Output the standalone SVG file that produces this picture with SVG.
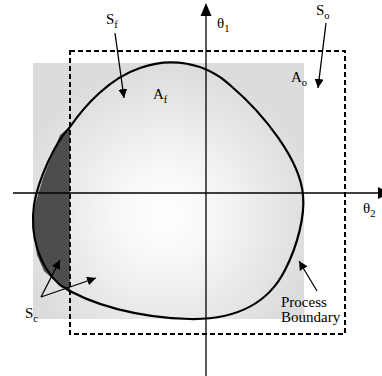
<svg xmlns="http://www.w3.org/2000/svg" width="382" height="376" viewBox="0 0 382 376">
<style>
.t{font-family:"Liberation Serif","Times New Roman",serif;font-size:15px;fill:#000}
.s{font-family:"Liberation Serif","Times New Roman",serif;font-size:10.5px;fill:#000}
.ln{stroke:#000;stroke-width:1.3;fill:none}
.bd{stroke:#000;stroke-width:2.2;fill:none;stroke-linejoin:round}
.dash{stroke:#000;stroke-width:2;fill:none;stroke-dasharray:5 3}
</style>
<defs>
<radialGradient id="g" gradientUnits="userSpaceOnUse" cx="165" cy="215" r="150">
<stop offset="0" stop-color="#ffffff"/>
<stop offset="0.3" stop-color="#f8f8f8"/>
<stop offset="1" stop-color="#dcdcdc"/>
</radialGradient>
<marker id="ah2" viewBox="0 0 10 10" refX="10" refY="5" markerWidth="9" markerHeight="9" markerUnits="userSpaceOnUse" orient="auto">
<path d="M0,0 L10,5 L0,10 Z" fill="#000"/>
</marker>
</defs>
<g id="background">
<rect x="33" y="63" width="271" height="256" fill="url(#g)"/>
</g>
<g id="region-Sc">
<polygon points="70,127 60,135 43,178 35,205 33,228 37,255 44,271 57,283 70,293" fill="#4d4d4d"/>
</g>
<g id="process-boundary">
<path class="bd" d="M70,127 C55,142 38,180 34,205 C30,235 38,265 60,285 C90,305 140,318 190,319 C240,320 270,300 285,270 C298,245 305,215 303,195 C300,160 265,115 230,85 C205,62 170,57 140,68 C110,78 85,105 70,127 Z"/>
</g>
<g id="operating-region">
<rect class="dash" x="70" y="51" width="275" height="283"/>
</g>
<g id="axes">
<line class="ln" x1="206" y1="14" x2="206" y2="376"/>
<polygon points="206,3 200.5,16 211.5,16" fill="#000"/>
<line class="ln" x1="13" y1="193" x2="379" y2="193"/>
<polygon points="390,193 378,187 378,199" fill="#000"/>
</g>
<g id="connectors">
<line class="ln" x1="115" y1="33" x2="124" y2="98" marker-end="url(#ah2)"/>
<line class="ln" x1="326" y1="23" x2="318" y2="88" marker-end="url(#ah2)"/>
<line class="ln" x1="317" y1="291" x2="299" y2="261" marker-end="url(#ah2)"/>
<line class="ln" x1="41" y1="297" x2="60" y2="260" marker-end="url(#ah2)"/>
<line class="ln" x1="41" y1="297" x2="96" y2="278" marker-end="url(#ah2)"/>
</g>
<g id="labels">
<text class="t" x="106" y="24">S<tspan class="s" dy="4">f</tspan></text>
<text class="t" x="153" y="99">A<tspan class="s" dy="4">f</tspan></text>
<text class="t" x="316" y="15">S<tspan class="s" dy="4">o</tspan></text>
<text class="t" x="291" y="82">A<tspan class="s" dy="4">o</tspan></text>
<text class="t" x="217" y="28">θ<tspan class="s" dy="4">1</tspan></text>
<text class="t" x="363" y="213">θ<tspan class="s" dy="4">2</tspan></text>
<text class="t" x="25" y="318">S<tspan class="s" dy="4">c</tspan></text>
<text class="t" x="281" y="307">Process</text>
<text class="t" x="281" y="322">Boundary</text>
</g>
</svg>
